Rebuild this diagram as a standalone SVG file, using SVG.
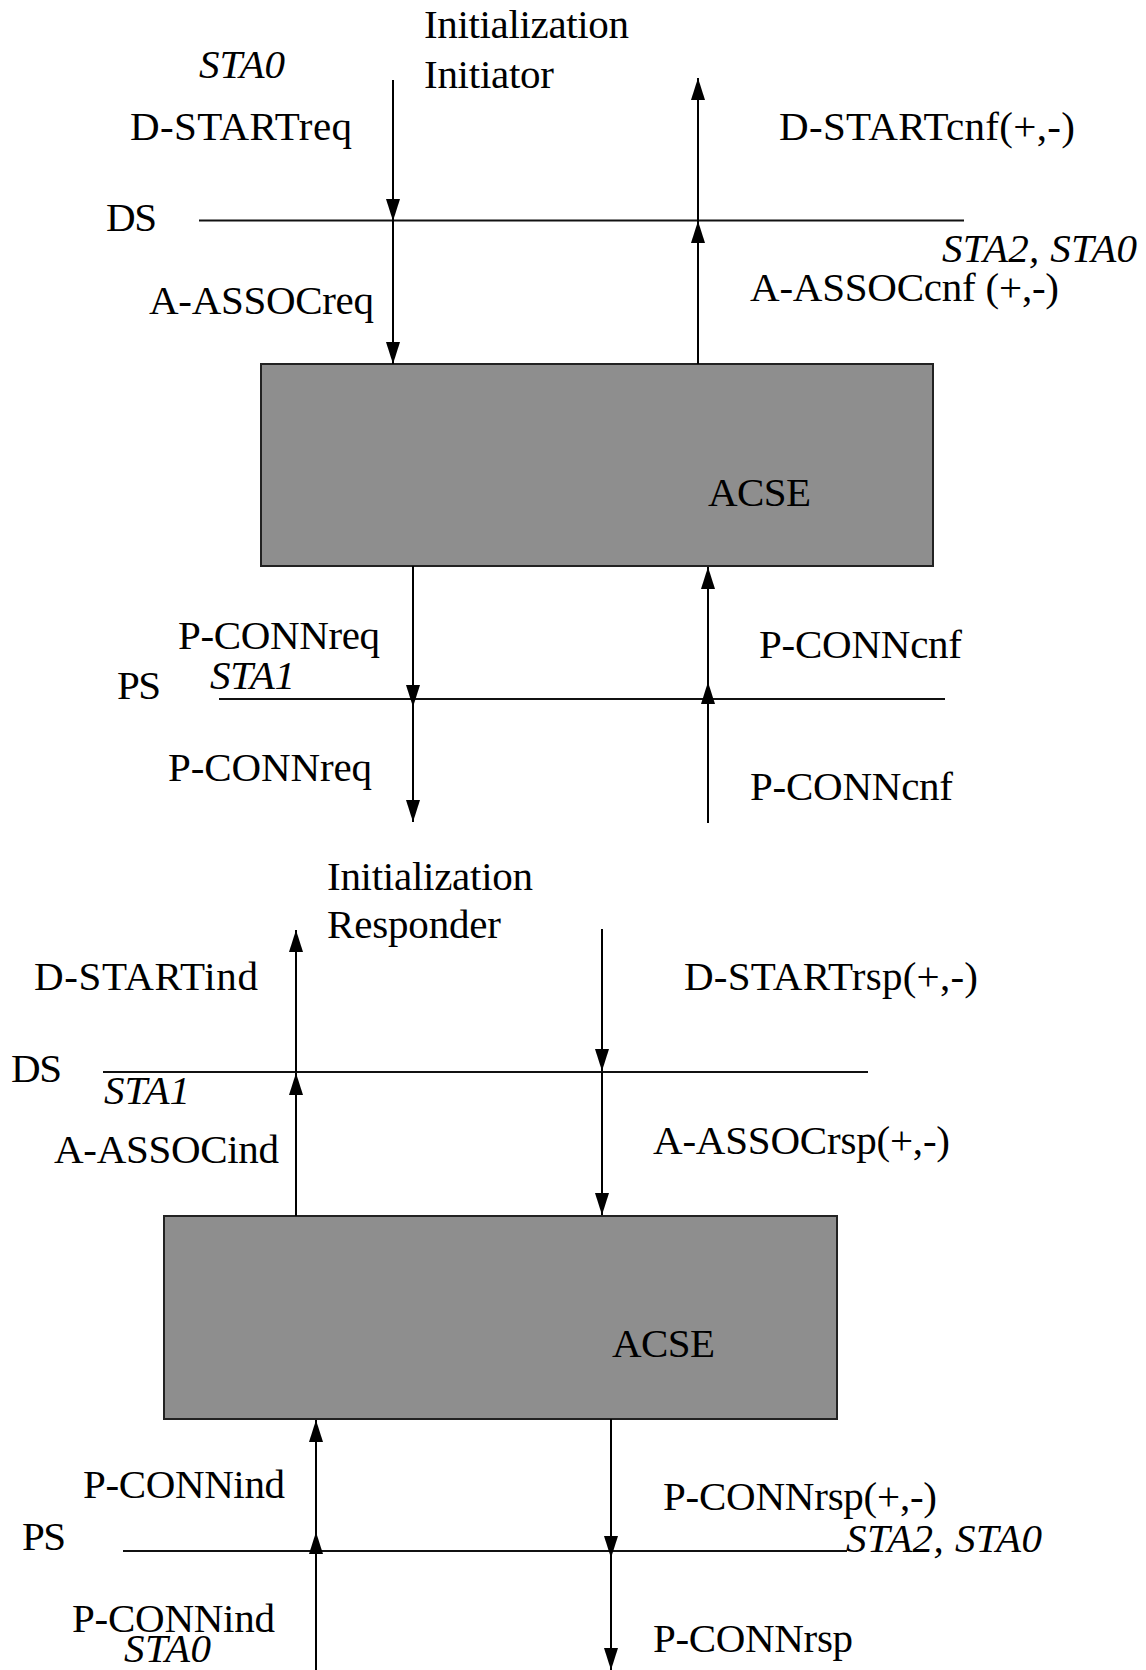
<svg xmlns="http://www.w3.org/2000/svg" width="1146" height="1670" viewBox="0 0 1146 1670">
<style>
text { font-family: "Liberation Serif", "Times New Roman", serif; font-size: 41px; fill: #000; }
.it { font-style: italic; }
.box { fill: #8e8e8e; stroke: #222; stroke-width: 2; }
.layer { stroke: #111; stroke-width: 2; fill: none; }
.arr { stroke: #000; stroke-width: 2; fill: none; marker-end: url(#ah); }
</style>
<defs>
<marker id="ah" viewBox="0 0 22 14" refX="22" refY="7" markerWidth="22" markerHeight="14" markerUnits="userSpaceOnUse" orient="auto">
<path d="M0,0 L22,7 L0,14 z" fill="#000"/>
</marker>
</defs>
<rect width="1146" height="1670" fill="#fff"/>

<g id="initiator">
  <g id="acse-initiator">
    <rect class="box" x="261" y="364" width="672" height="202"/>
    <text x="708" y="506" textLength="103">ACSE</text>
  </g>
  <g id="ds-top">
    <line class="layer" x1="199" y1="220.5" x2="964" y2="220.5"/>
    <text x="106" y="231" textLength="51">DS</text>
  </g>
  <g id="ps-top">
    <line class="layer" x1="219" y1="699" x2="945" y2="699"/>
    <text x="117" y="699" textLength="44">PS</text>
  </g>
  <g id="labels-top">
    <text x="424" y="38" textLength="205">Initialization</text>
    <text x="424" y="88" textLength="130">Initiator</text>
    <text class="it" x="199" y="78" textLength="86">STA0</text>
    <text x="130" y="140" textLength="222">D-STARTreq</text>
    <text x="779" y="140" textLength="296">D-STARTcnf(+,-)</text>
    <text class="it" x="942" y="262" textLength="195">STA2, STA0</text>
    <text x="750" y="301" textLength="309">A-ASSOCcnf (+,-)</text>
    <text x="149" y="314" textLength="225">A-ASSOCreq</text>
    <text x="178" y="649" textLength="202">P-CONNreq</text>
    <text class="it" x="210" y="689" textLength="85">STA1</text>
    <text x="168" y="781" textLength="204">P-CONNreq</text>
    <text x="759" y="658" textLength="203">P-CONNcnf</text>
    <text x="750" y="800" textLength="203">P-CONNcnf</text>
  </g>
</g>

<g id="responder">
  <g id="acse-responder">
    <rect class="box" x="164" y="1216" width="673" height="203"/>
    <text x="612" y="1357" textLength="103">ACSE</text>
  </g>
  <g id="ds-bottom">
    <line class="layer" x1="103" y1="1072" x2="868" y2="1072"/>
    <text x="11" y="1082" textLength="51">DS</text>
  </g>
  <g id="ps-bottom">
    <line class="layer" x1="123" y1="1551" x2="847" y2="1551"/>
    <text x="22" y="1550" textLength="44">PS</text>
  </g>
  <g id="labels-bottom">
    <text x="327" y="890" textLength="206">Initialization</text>
    <text x="327" y="938" textLength="174">Responder</text>
    <text x="34" y="990" textLength="224">D-STARTind</text>
    <text x="684" y="990" textLength="294">D-STARTrsp(+,-)</text>
    <text class="it" x="104" y="1104" textLength="86">STA1</text>
    <text x="54" y="1163" textLength="225">A-ASSOCind</text>
    <text x="653" y="1154" textLength="297">A-ASSOCrsp(+,-)</text>
    <text x="83" y="1498" textLength="202">P-CONNind</text>
    <text x="663" y="1510" textLength="274">P-CONNrsp(+,-)</text>
    <text class="it" x="846" y="1552" textLength="196">STA2, STA0</text>
    <text x="72" y="1632" textLength="203">P-CONNind</text>
    <text class="it" x="124" y="1662" textLength="87">STA0</text>
    <text x="653" y="1652" textLength="200">P-CONNrsp</text>
  </g>
</g>

<g id="connectors">
  <line class="arr" x1="393" y1="80" x2="393" y2="221"/>
  <line class="arr" x1="393" y1="221" x2="393" y2="364"/>
  <line class="arr" x1="698" y1="364" x2="698" y2="221"/>
  <line class="arr" x1="698" y1="221" x2="698" y2="78"/>
  <line class="arr" x1="413" y1="566" x2="413" y2="707"/>
  <line class="arr" x1="413" y1="699" x2="413" y2="822"/>
  <line class="arr" x1="708" y1="823" x2="708" y2="682"/>
  <line class="arr" x1="708" y1="699" x2="708" y2="567"/>

  <line class="arr" x1="296" y1="1216" x2="296" y2="1073"/>
  <line class="arr" x1="296" y1="1072" x2="296" y2="930"/>
  <line class="arr" x1="602" y1="929" x2="602" y2="1071"/>
  <line class="arr" x1="602" y1="1072" x2="602" y2="1215"/>
  <line class="arr" x1="316" y1="1670" x2="316" y2="1532"/>
  <line class="arr" x1="316" y1="1551" x2="316" y2="1420"/>
  <line class="arr" x1="611" y1="1419" x2="611" y2="1558"/>
  <line class="arr" x1="611" y1="1551" x2="611" y2="1670"/>
</g>
</svg>
